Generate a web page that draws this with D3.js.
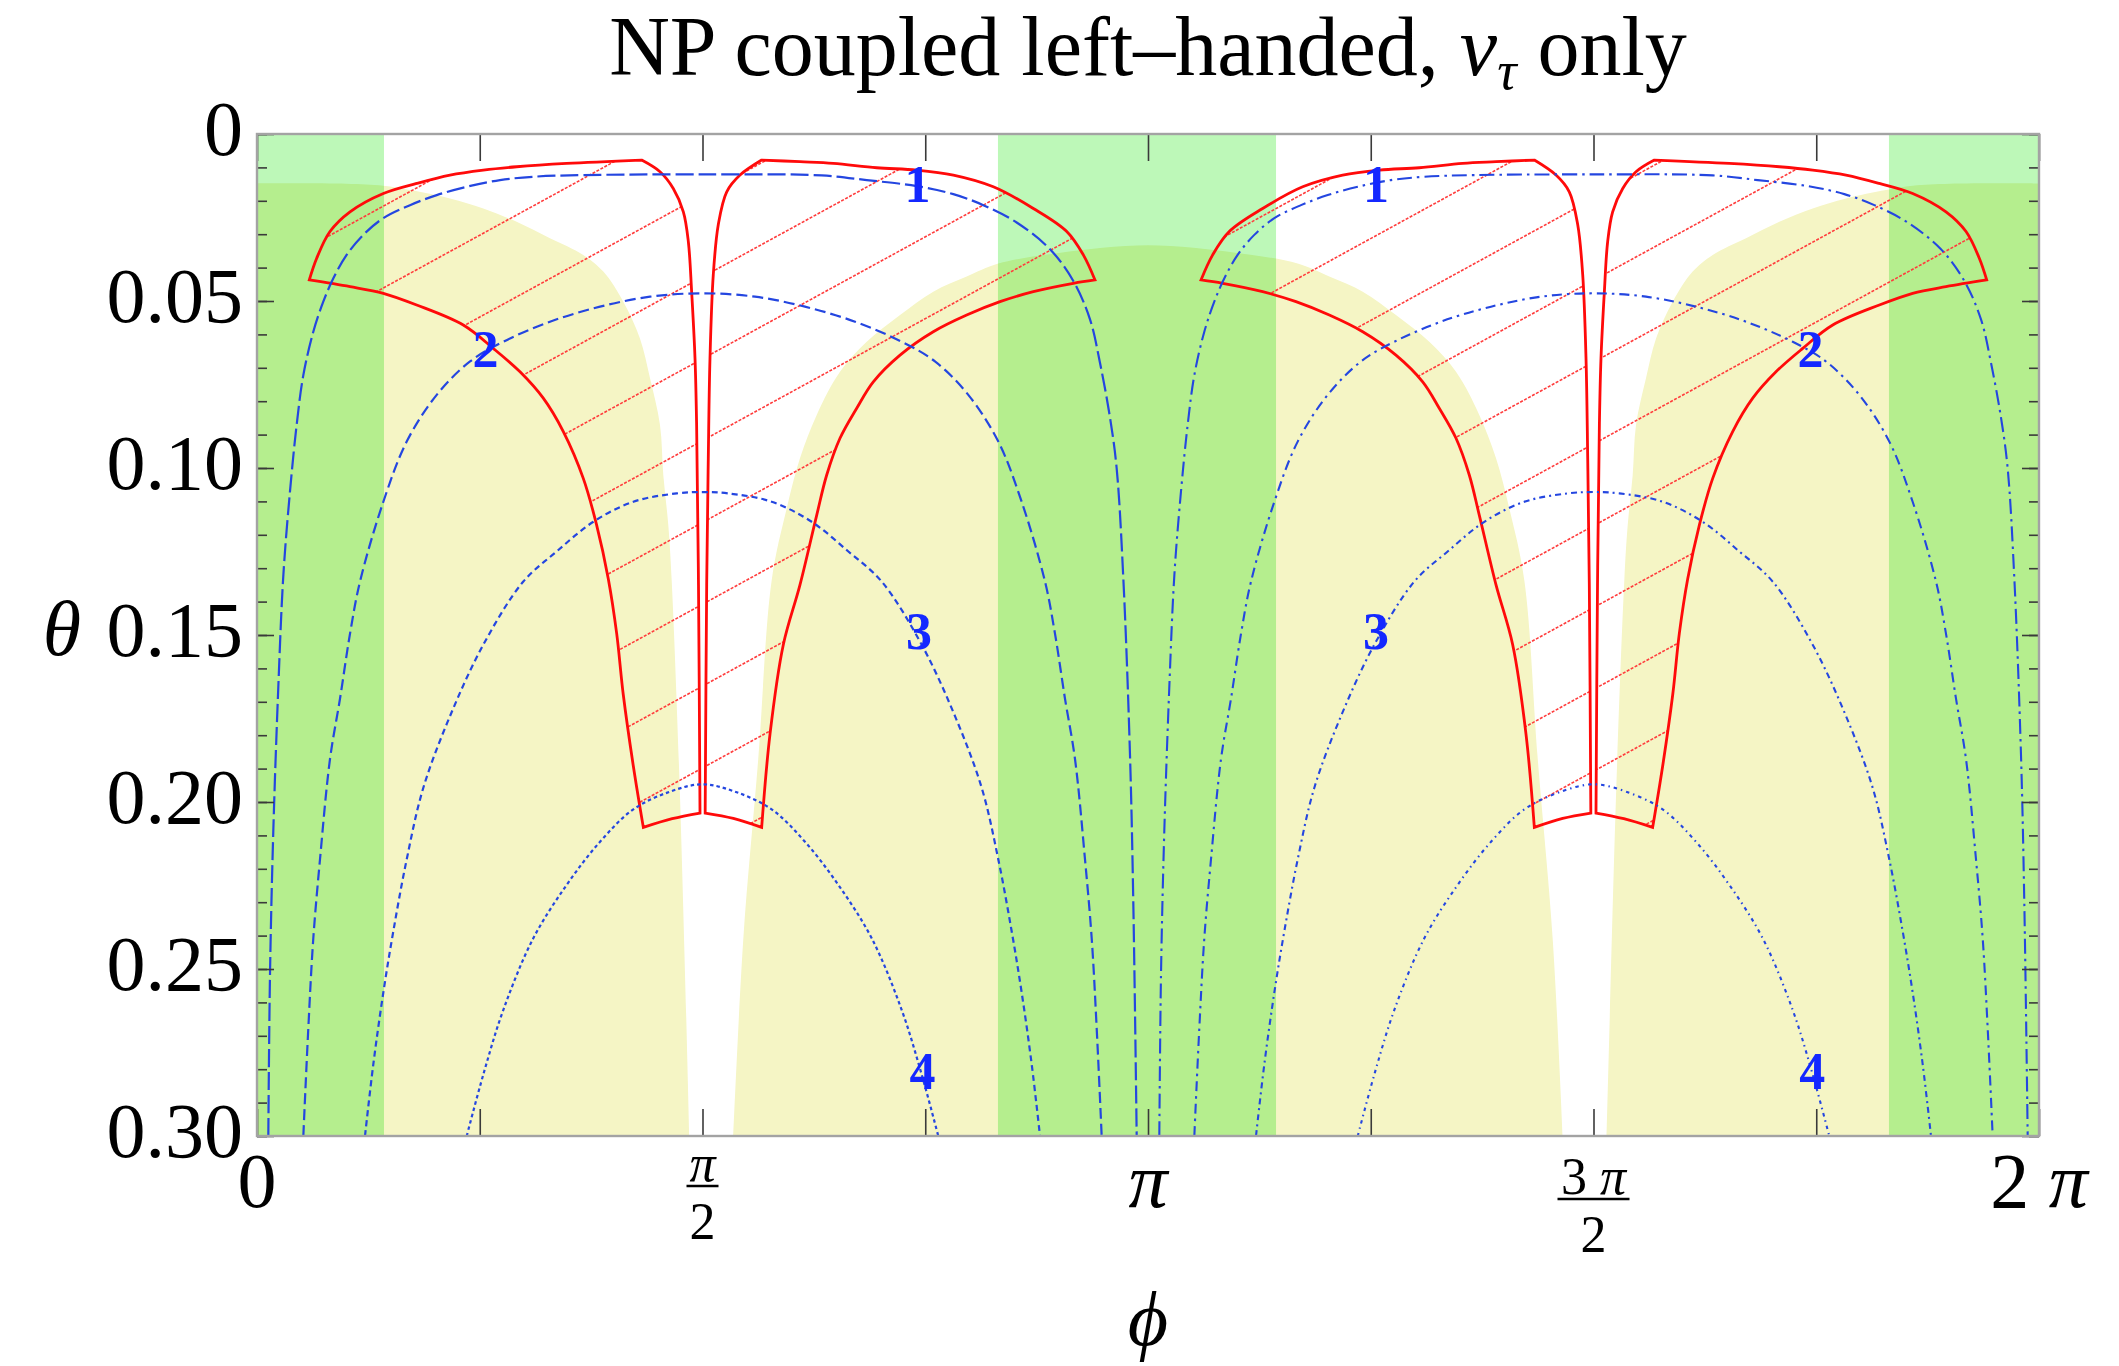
<!DOCTYPE html>
<html>
<head>
<meta charset="utf-8">
<title>NP coupled left-handed, nu_tau only</title>
<script src="https://cdn.jsdelivr.net/npm/d3@7"></script>
<style>
  body { margin: 0; background: #fff; }
  svg { display: block; }
</style>
</head>
<body>
<div id="container"></div>
<script>
// phi is given in units of pi, theta in radians

// green allowed bands (phi ranges)
var greenBands = [[0, 0.1425], [0.8316, 1.1437], [1.8316, 2]];

// yellow allowed region, three lobes, each a list of edges
var yellowA = [
  [[0, 0.300], [0, 0.0148]],
  [[0, 0.0148], [0.1000, 0.0149], [0.1418, 0.0155], [0.1717, 0.0168], [0.2166, 0.0193], [0.2540, 0.0223],
   [0.2914, 0.0263], [0.3288, 0.0312], [0.3662, 0.0362], [0.3887, 0.0412], [0.4111, 0.0502], [0.4298, 0.0612],
   [0.4411, 0.0731], [0.4523, 0.0871], [0.4560, 0.1021], [0.4616, 0.1171], [0.4654, 0.1335], [0.4747, 0.1980],
   [0.4852, 0.300]]
];
var yellowB = [
  [[0.5346, 0.300], [0.5458, 0.2410], [0.5626, 0.1870], [0.5777, 0.1335], [0.5945, 0.1121], [0.6094, 0.0971],
   [0.6282, 0.0841], [0.6543, 0.0712], [0.6843, 0.0622], [0.7217, 0.0542], [0.7590, 0.0472], [0.7965, 0.0427],
   [0.8320, 0.0388], [0.9000, 0.0356], [1.0000, 0.0333], [1.1000, 0.0356], [1.1680, 0.0388], [1.2035, 0.0427],
   [1.2410, 0.0472], [1.2783, 0.0542], [1.3157, 0.0622], [1.3457, 0.0712], [1.3718, 0.0841], [1.3906, 0.0971],
   [1.4055, 0.1121], [1.4223, 0.1335], [1.4374, 0.1870], [1.4542, 0.2410], [1.4654, 0.300]]
];
var yellowC = [
  [[1.5148, 0.300], [1.5253, 0.1980], [1.5346, 0.1335], [1.5384, 0.1171], [1.5440, 0.1021], [1.5477, 0.0871],
   [1.5589, 0.0731], [1.5702, 0.0612], [1.5889, 0.0502], [1.6113, 0.0412], [1.6338, 0.0362], [1.6712, 0.0312],
   [1.7086, 0.0263], [1.7460, 0.0223], [1.7834, 0.0193], [1.8283, 0.0168], [1.8582, 0.0155], [1.9000, 0.0149],
   [2, 0.0148]],
  [[2, 0.0148], [2, 0.300]]
];

// red hatched region: four closed shapes, each a list of edges
var redLeftA = [
  [[0.0587, 0.0437], [0.0670, 0.0372], [0.0819, 0.0292], [0.1044, 0.0233], [0.1418, 0.0178], [0.1792, 0.0148],
   [0.2166, 0.0123], [0.2540, 0.0108], [0.2914, 0.0098], [0.3476, 0.0088], [0.4317, 0.0078]],
  [[0.4317, 0.0078], [0.4523, 0.0113], [0.4672, 0.0163], [0.4785, 0.0233], [0.4841, 0.0322], [0.4878, 0.0472],
   [0.4916, 0.0672], [0.4934, 0.0871], [0.4955, 0.1350], [0.4972, 0.2033]],
  [[0.4972, 0.2033], [0.4660, 0.2050], [0.4336, 0.2076]],
  [[0.4336, 0.2076], [0.4224, 0.1893], [0.4111, 0.1679], [0.4037, 0.1496], [0.3943, 0.1332], [0.3812, 0.1171],
   [0.3662, 0.1031], [0.3438, 0.0891], [0.3213, 0.0791], [0.2952, 0.0712], [0.2652, 0.0642], [0.2315, 0.0572],
   [0.1792, 0.0512], [0.1418, 0.0477], [0.1044, 0.0457], [0.0587, 0.0437]]
];
var redLeftB = [
  [[0.5030, 0.2033], [0.5047, 0.1350], [0.5065, 0.0971], [0.5084, 0.0672], [0.5121, 0.0422], [0.5177, 0.0272],
   [0.5272, 0.0173], [0.5421, 0.0123], [0.5664, 0.0078]],
  [[0.5664, 0.0078], [0.6094, 0.0083], [0.6468, 0.0088], [0.6955, 0.0101], [0.7404, 0.0108], [0.7815, 0.0123],
   [0.8264, 0.0158], [0.8713, 0.0223], [0.9088, 0.0292], [0.9274, 0.0362], [0.9405, 0.0437]],
  [[0.9405, 0.0437], [0.9162, 0.0447], [0.8713, 0.0472], [0.8339, 0.0502], [0.7965, 0.0542], [0.7590, 0.0592],
   [0.7217, 0.0662], [0.6917, 0.0742], [0.6731, 0.0821], [0.6543, 0.0911], [0.6394, 0.1021], [0.6282, 0.1141],
   [0.6094, 0.1350], [0.5907, 0.1529], [0.5758, 0.1796], [0.5664, 0.2076]],
  [[0.5664, 0.2076], [0.5346, 0.2049], [0.5030, 0.2033]]
];
var redRightA = [
  [[1.4970, 0.2033], [1.4953, 0.1350], [1.4935, 0.0971], [1.4916, 0.0672], [1.4879, 0.0422], [1.4823, 0.0272],
   [1.4728, 0.0173], [1.4579, 0.0123], [1.4336, 0.0078]],
  [[1.4336, 0.0078], [1.3906, 0.0083], [1.3532, 0.0088], [1.3045, 0.0101], [1.2596, 0.0108], [1.2185, 0.0123],
   [1.1736, 0.0158], [1.1287, 0.0223], [1.0912, 0.0292], [1.0726, 0.0362], [1.0595, 0.0437]],
  [[1.0595, 0.0437], [1.0838, 0.0447], [1.1287, 0.0472], [1.1661, 0.0502], [1.2035, 0.0542], [1.2410, 0.0592],
   [1.2783, 0.0662], [1.3083, 0.0742], [1.3269, 0.0821], [1.3457, 0.0911], [1.3606, 0.1021], [1.3718, 0.1141],
   [1.3906, 0.1350], [1.4093, 0.1529], [1.4242, 0.1796], [1.4336, 0.2076]],
  [[1.4336, 0.2076], [1.4654, 0.2049], [1.4970, 0.2033]]
];
var redRightB = [
  [[1.9413, 0.0437], [1.9330, 0.0372], [1.9181, 0.0292], [1.8956, 0.0233], [1.8582, 0.0178], [1.8208, 0.0148],
   [1.7834, 0.0123], [1.7460, 0.0108], [1.7086, 0.0098], [1.6524, 0.0088], [1.5683, 0.0078]],
  [[1.5683, 0.0078], [1.5477, 0.0113], [1.5328, 0.0163], [1.5215, 0.0233], [1.5159, 0.0322], [1.5122, 0.0472],
   [1.5084, 0.0672], [1.5066, 0.0871], [1.5045, 0.1350], [1.5028, 0.2033]],
  [[1.5028, 0.2033], [1.5340, 0.2050], [1.5664, 0.2076]],
  [[1.5664, 0.2076], [1.5776, 0.1893], [1.5889, 0.1679], [1.5963, 0.1496], [1.6057, 0.1332], [1.6188, 0.1171],
   [1.6338, 0.1031], [1.6562, 0.0891], [1.6787, 0.0791], [1.7048, 0.0712], [1.7348, 0.0642], [1.7685, 0.0572],
   [1.8208, 0.0512], [1.8582, 0.0477], [1.8956, 0.0457], [1.9413, 0.0437]]
];

// hatching: theta at phi = 0 for each line, and slope (theta per pi)
var hatchIntercepts = [0.0178, 0.0423, 0.0668, 0.0913, 0.1158, 0.1403, 0.1648, 0.1893, 0.2138, 0.2383,
                       0.2628, 0.2873, 0.3118, 0.3363, 0.3608, 0.3853, 0.4098, 0.4343, 0.4588];
var hatchSlope = -0.146;

// blue contours around pi/2 (dashed)
var contourL1 = [[0.0127, 0.300], [0.0146, 0.2515], [0.0183, 0.2087], [0.0239, 0.1657], [0.0296, 0.1320], [0.0370, 0.1071],
  [0.0445, 0.0871], [0.0520, 0.0722], [0.0632, 0.0592], [0.0744, 0.0502], [0.0857, 0.0432], [0.1006, 0.0362],
  [0.1193, 0.0302], [0.1418, 0.0252], [0.1717, 0.0213], [0.2017, 0.0183], [0.2354, 0.0158], [0.2727, 0.0138],
  [0.3101, 0.0128], [0.3662, 0.0123], [0.5000, 0.0121], [0.6338, 0.0124], [0.6843, 0.0138], [0.7404, 0.0156],
  [0.7815, 0.0180], [0.8152, 0.0213], [0.8526, 0.0265], [0.8900, 0.0345], [0.9162, 0.0440], [0.9349, 0.0555],
  [0.9461, 0.0685], [0.9574, 0.0850], [0.9648, 0.1000], [0.9723, 0.1330], [0.9798, 0.1860], [0.9835, 0.2300],
  [0.9873, 0.300]];
var contourL2 = [[0.0520, 0.300], [0.0576, 0.2677], [0.0632, 0.2408], [0.0707, 0.2172], [0.0819, 0.1872], [0.0932, 0.1690],
  [0.1044, 0.1496], [0.1156, 0.1340], [0.1418, 0.1101], [0.1680, 0.0921], [0.2017, 0.0781], [0.2391, 0.0681],
  [0.2764, 0.0622], [0.3288, 0.0562], [0.3850, 0.0517], [0.4411, 0.0487], [0.5000, 0.0477], [0.5589, 0.0487],
  [0.6150, 0.0517], [0.6712, 0.0562], [0.7236, 0.0622], [0.7609, 0.0681], [0.7983, 0.0781], [0.8320, 0.0921],
  [0.8582, 0.1101], [0.8844, 0.1340], [0.8956, 0.1496], [0.9068, 0.1690], [0.9181, 0.1872], [0.9293, 0.2172],
  [0.9368, 0.2408], [0.9424, 0.2677], [0.9480, 0.300]];
var contourL3 = [[0.1212, 0.300], [0.1306, 0.2784], [0.1418, 0.2570], [0.1530, 0.2387], [0.1680, 0.2172], [0.1866, 0.1958],
  [0.2166, 0.1743], [0.2540, 0.1529], [0.2989, 0.1340], [0.3363, 0.1250], [0.3775, 0.1161], [0.4224, 0.1101],
  [0.4710, 0.1076], [0.5000, 0.1072], [0.5290, 0.1076], [0.5776, 0.1101], [0.6225, 0.1161], [0.6637, 0.1250],
  [0.7011, 0.1340], [0.7460, 0.1529], [0.7834, 0.1743], [0.8134, 0.1958], [0.8320, 0.2172], [0.8470, 0.2387],
  [0.8582, 0.2570], [0.8694, 0.2784], [0.8788, 0.300]];
var contourL4 = [[0.2354, 0.300], [0.2540, 0.2816], [0.2764, 0.2623], [0.3101, 0.2408], [0.3476, 0.2248], [0.3850, 0.2119],
  [0.4224, 0.2022], [0.4635, 0.1969], [0.5000, 0.1947], [0.5365, 0.1969], [0.5776, 0.2022], [0.6150, 0.2119],
  [0.6524, 0.2248], [0.6899, 0.2408], [0.7236, 0.2623], [0.7460, 0.2816], [0.7646, 0.300]];

// blue contours around 3pi/2 (dot-dashed)
var contourR1 = [[1.0127, 0.300], [1.0146, 0.2515], [1.0183, 0.2087], [1.0239, 0.1657], [1.0296, 0.1320], [1.0370, 0.1071],
  [1.0445, 0.0871], [1.0520, 0.0722], [1.0632, 0.0592], [1.0744, 0.0502], [1.0857, 0.0432], [1.1006, 0.0362],
  [1.1193, 0.0302], [1.1418, 0.0252], [1.1717, 0.0213], [1.2017, 0.0183], [1.2354, 0.0158], [1.2727, 0.0138],
  [1.3101, 0.0128], [1.3662, 0.0123], [1.5000, 0.0121], [1.6338, 0.0124], [1.6843, 0.0138], [1.7404, 0.0156],
  [1.7815, 0.0180], [1.8152, 0.0213], [1.8526, 0.0265], [1.8900, 0.0345], [1.9162, 0.0440], [1.9349, 0.0555],
  [1.9461, 0.0685], [1.9574, 0.0850], [1.9648, 0.1000], [1.9723, 0.1330], [1.9798, 0.1860], [1.9835, 0.2300],
  [1.9873, 0.300]];
var contourR2 = [[1.0520, 0.300], [1.0576, 0.2677], [1.0632, 0.2408], [1.0707, 0.2172], [1.0819, 0.1872], [1.0932, 0.1690],
  [1.1044, 0.1496], [1.1156, 0.1340], [1.1418, 0.1101], [1.1680, 0.0921], [1.2017, 0.0781], [1.2391, 0.0681],
  [1.2764, 0.0622], [1.3288, 0.0562], [1.3850, 0.0517], [1.4411, 0.0487], [1.5000, 0.0477], [1.5589, 0.0487],
  [1.6150, 0.0517], [1.6712, 0.0562], [1.7236, 0.0622], [1.7609, 0.0681], [1.7983, 0.0781], [1.8320, 0.0921],
  [1.8582, 0.1101], [1.8844, 0.1340], [1.8956, 0.1496], [1.9068, 0.1690], [1.9181, 0.1872], [1.9293, 0.2172],
  [1.9368, 0.2408], [1.9424, 0.2677], [1.9480, 0.300]];
var contourR3 = [[1.1212, 0.300], [1.1306, 0.2784], [1.1418, 0.2570], [1.1530, 0.2387], [1.1680, 0.2172], [1.1866, 0.1958],
  [1.2166, 0.1743], [1.2540, 0.1529], [1.2989, 0.1340], [1.3363, 0.1250], [1.3775, 0.1161], [1.4224, 0.1101],
  [1.4710, 0.1076], [1.5000, 0.1072], [1.5290, 0.1076], [1.5776, 0.1101], [1.6225, 0.1161], [1.6637, 0.1250],
  [1.7011, 0.1340], [1.7460, 0.1529], [1.7834, 0.1743], [1.8134, 0.1958], [1.8320, 0.2172], [1.8470, 0.2387],
  [1.8582, 0.2570], [1.8694, 0.2784], [1.8788, 0.300]];
var contourR4 = [[1.2354, 0.300], [1.2540, 0.2816], [1.2764, 0.2623], [1.3101, 0.2408], [1.3476, 0.2248], [1.3850, 0.2119],
  [1.4224, 0.2022], [1.4635, 0.1969], [1.5000, 0.1947], [1.5365, 0.1969], [1.5776, 0.2022], [1.6150, 0.2119],
  [1.6524, 0.2248], [1.6899, 0.2408], [1.7236, 0.2623], [1.7460, 0.2816], [1.7646, 0.300]];

// contour labels [phi, theta, text]
var contourLabels = [
  [0.7413, 0.0150, "1"], [0.2565, 0.0644, "2"], [0.7430, 0.1488, "3"], [0.7469, 0.2805, "4"],
  [1.2560, 0.0150, "1"], [1.7435, 0.0644, "2"], [1.2560, 0.1488, "3"], [1.7455, 0.2805, "4"]
];

// axes
var yMajorTicks = [0, 0.05, 0.10, 0.15, 0.20, 0.25, 0.30];
var yTickLabels = ["0", "0.05", "0.10", "0.15", "0.20", "0.25", "0.30"];
var xTicks = [0, 0.25, 0.5, 0.75, 1, 1.25, 1.5, 1.75, 2];
var xTickLabels = [
  {v: 0, text: "0"},
  {v: 0.5, num: "π", den: "2"},
  {v: 1, text: "π"},
  {v: 1.5, num: "3 π", den: "2"},
  {v: 2, text: "2 π"}
];
var titleText = "NP coupled left–handed, ";

// ---- layout ----
var W = 2119, H = 1366;
var margin = {top: 134, left: 257},
    width = 1782,
    height = 1002;

var x = d3.scaleLinear().domain([0, 2]).range([0, width]);
var y = d3.scaleLinear().domain([0, 0.3]).range([0, height]);

var svg = d3.select("#container").append("svg")
    .attr("width", W)
    .attr("height", H)
    .style("font-family", "'Liberation Serif', 'DejaVu Serif', serif");
svg.append("rect").attr("width", W).attr("height", H).attr("fill", "#fff");

var defs = svg.append("defs");
defs.append("clipPath").attr("id", "plotClip")
  .append("rect").attr("width", width).attr("height", height);

var g = svg.append("g")
    .attr("transform", "translate(" + margin.left + "," + margin.top + ")");

var smooth = d3.line()
    .x(function(d) { return x(d[0]); })
    .y(function(d) { return y(d[1]); })
    .curve(d3.curveCatmullRom.alpha(0.5));

// joins the edges of one shape into a single closed path
function shapePath(edges) {
  return edges.map(function(e, i) {
    var p = smooth(e);
    return i === 0 ? p : "L" + p.slice(1);
  }).join("") + "Z";
}

var plot = g.append("g").attr("clip-path", "url(#plotClip)");

// yellow region
plot.append("g").selectAll("path")
    .data([yellowA, yellowB, yellowC])
  .enter().append("path")
    .attr("d", shapePath)
    .attr("fill", "#f5f5c5");

// green bands, multiplied over the yellow
plot.append("g").selectAll("rect")
    .data(greenBands)
  .enter().append("rect")
    .attr("x", function(d) { return x(d[0]); })
    .attr("width", function(d) { return x(d[1]) - x(d[0]); })
    .attr("y", y(0))
    .attr("height", y(0.3) - y(0))
    .attr("fill", "#bdf8b8")
    .style("mix-blend-mode", "multiply");

// red hatching
var redShapes = [redLeftA, redLeftB, redRightA, redRightB];
defs.append("clipPath").attr("id", "redClip")
  .selectAll("path").data(redShapes)
  .enter().append("path").attr("d", shapePath);

plot.append("g").attr("clip-path", "url(#redClip)")
  .selectAll("line").data(hatchIntercepts)
  .enter().append("line")
    .attr("x1", x(0))
    .attr("y1", function(b) { return y(b); })
    .attr("x2", x(2))
    .attr("y2", function(b) { return y(b + 2 * hatchSlope); })
    .attr("stroke", "#ff3c3c")
    .attr("stroke-width", 1.6)
    .attr("stroke-dasharray", "3,1.5");

plot.append("g").selectAll("path")
    .data(redShapes)
  .enter().append("path")
    .attr("d", shapePath)
    .attr("fill", "none")
    .attr("stroke", "#ff0a0a")
    .attr("stroke-width", 2.8)
    .attr("stroke-linejoin", "miter");

// blue contours
var openLine = d3.line()
    .x(function(d) { return x(d[0]); })
    .y(function(d) { return y(d[1]); })
    .curve(d3.curveCatmullRom.alpha(0.5));

var leftDash = ["18,5", "11,5", "6,4", "3.5,3"];
var rightDash = ["15,5,2.5,5", "10,5,2.5,5", "6,4,2,4", "3.5,4,1.5,4"];
[contourL1, contourL2, contourL3, contourL4].forEach(function(c, i) {
  plot.append("path")
      .attr("d", openLine(c))
      .attr("fill", "none")
      .attr("stroke", "#2446e0")
      .attr("stroke-width", 2.2)
      .attr("stroke-dasharray", leftDash[i]);
});
[contourR1, contourR2, contourR3, contourR4].forEach(function(c, i) {
  plot.append("path")
      .attr("d", openLine(c))
      .attr("fill", "none")
      .attr("stroke", "#2446e0")
      .attr("stroke-width", 2.1)
      .attr("stroke-dasharray", rightDash[i]);
});

plot.append("g").selectAll("text")
    .data(contourLabels)
  .enter().append("text")
    .attr("x", function(d) { return x(d[0]); })
    .attr("y", function(d) { return y(d[1]); })
    .attr("dy", "0.35em")
    .attr("text-anchor", "middle")
    .attr("font-size", 52)
    .attr("font-weight", "bold")
    .attr("fill", "#1428ff")
    .text(function(d) { return d[2]; });

// frame ticks
function styleAxis(sel) {
  sel.select(".domain").remove();
  sel.selectAll(".tick line").attr("stroke", "#3a3a3a").attr("stroke-width", 1.6);
}
g.append("g").call(d3.axisLeft(y).ticks(30).tickSize(-10).tickFormat("")).call(styleAxis);
g.append("g").attr("transform", "translate(" + width + ",0)")
  .call(d3.axisRight(y).ticks(30).tickSize(-10).tickFormat("")).call(styleAxis);
g.append("g").attr("transform", "translate(" + width + ",0)")
  .call(d3.axisRight(y).tickValues(yMajorTicks).tickSize(-17).tickFormat("")).call(styleAxis);

var yAxis = g.append("g")
    .call(d3.axisLeft(y).tickValues(yMajorTicks).tickSize(-17).tickPadding(14)
      .tickFormat(function(d, i) { return yTickLabels[i]; }))
    .call(styleAxis);
yAxis.selectAll("text")
    .attr("font-size", 78)
    .attr("font-family", "'Liberation Serif', serif")
    .attr("fill", "#000")
    .attr("dy", "0.26em");

g.append("g").call(d3.axisTop(x).tickValues(xTicks).tickSize(-27).tickFormat("")).call(styleAxis);
g.append("g").attr("transform", "translate(0," + height + ")")
  .call(d3.axisBottom(x).tickValues(xTicks).tickSize(-27).tickFormat("")).call(styleAxis);

g.append("rect")
    .attr("width", width)
    .attr("height", height)
    .attr("fill", "none")
    .attr("stroke", "#a3a3a3")
    .attr("stroke-width", 2.4);

// text with italic pi
function mathText(sel, str) {
  var parts = str.split("π");
  parts.forEach(function(p, i) {
    if (p.length) sel.append("tspan").text(p);
    if (i < parts.length - 1) sel.append("tspan").attr("font-style", "italic").text("π");
  });
}

xTickLabels.forEach(function(d) {
  var cx = x(d.v);
  if (d.text !== undefined) {
    var t = g.append("text")
        .attr("x", cx)
        .attr("y", height + 71)
        .attr("text-anchor", "middle")
        .attr("font-size", 78);
    mathText(t, d.text);
  } else {
    var drop = /\d/.test(d.num) ? 13 : 0;
    var num = g.append("text")
        .attr("x", cx)
        .attr("y", height + 45 + drop)
        .attr("text-anchor", "middle")
        .attr("font-size", 52);
    mathText(num, d.num);
    var bw = d.num.length > 1 ? 36 : 16;
    g.append("line")
        .attr("x1", cx - bw).attr("x2", cx + bw)
        .attr("y1", height + 50 + drop).attr("y2", height + 50 + drop)
        .attr("stroke", "#000").attr("stroke-width", 2.6);
    g.append("text")
        .attr("x", cx)
        .attr("y", height + 103 + drop)
        .attr("text-anchor", "middle")
        .attr("font-size", 52)
        .text(d.den);
  }
});

// axis titles
svg.append("text")
    .attr("x", 62)
    .attr("y", margin.top + y(0.15) + 20)
    .attr("text-anchor", "middle")
    .attr("font-size", 78)
    .attr("font-style", "italic")
    .text("θ");
svg.append("text")
    .attr("x", margin.left + x(1))
    .attr("y", 1345)
    .attr("text-anchor", "middle")
    .attr("font-size", 78)
    .attr("font-style", "italic")
    .text("ϕ");

// title
var title = svg.append("text")
    .attr("x", margin.left + x(1))
    .attr("y", 75)
    .attr("text-anchor", "middle")
    .attr("font-size", 84);
title.append("tspan").text(titleText);
title.append("tspan").attr("font-style", "italic").text("ν");
title.append("tspan").attr("font-style", "italic").attr("font-size", 54).attr("dy", 14).text("τ");
title.append("tspan").attr("dy", -14).text(" only");
</script>
</body>
</html>
